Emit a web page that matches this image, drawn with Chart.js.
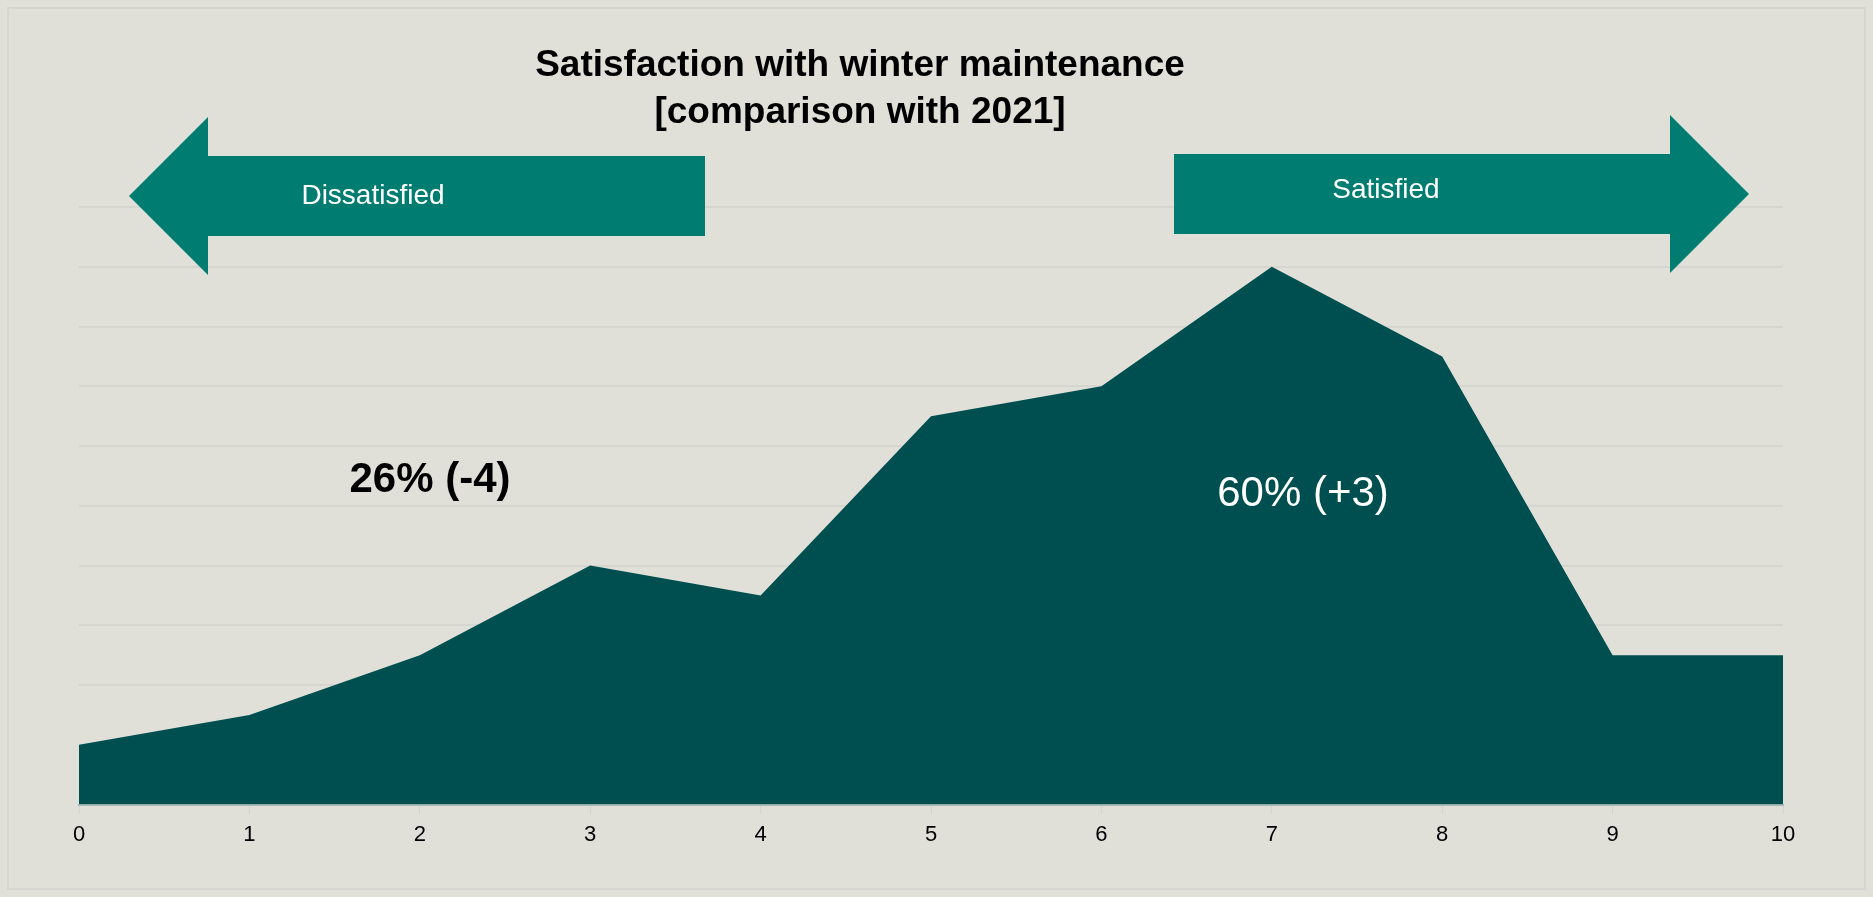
<!DOCTYPE html>
<html>
<head>
<meta charset="utf-8">
<script src="https://cdn.jsdelivr.net/npm/chart.js@4"></script>
<style>
  html, body { margin: 0; padding: 0; background: #E0E0D9; }
  canvas { display: block; }
</style>
</head>
<body>
<canvas id="c" width="1873" height="897"></canvas>
<script>
// ---- data ----
const categories = ['0','1','2','3','4','5','6','7','8','9','10'];
const shareValues = [2, 3, 5, 8, 7, 13, 14, 18, 15, 5, 5];
const titleLines = ['Satisfaction with winter maintenance', '[comparison with 2021]'];
const groupLabels = ['Dissatisfied', 'Satisfied'];
const groupResults = ['26% (-4)', '60% (+3)'];

const FONT = '"Liberation Sans", Arial, sans-serif';
const BG = '#E0E0D9';
const AREA = '#004F50';
const ARROW = '#007D70';

const decor = {
  id: 'decor',
  beforeDraw(chart) {
    const ctx = chart.ctx;
    ctx.save();
    ctx.fillStyle = BG;
    ctx.fillRect(0, 0, chart.width, chart.height);
    ctx.strokeStyle = '#D5D5D1';
    ctx.lineWidth = 2;
    ctx.strokeRect(8, 8, chart.width - 16, chart.height - 16);
    ctx.restore();
  },
  afterDraw(chart) {
    const ctx = chart.ctx;
    ctx.save();
    // title
    ctx.fillStyle = '#000';
    ctx.font = 'bold 37px ' + FONT;
    ctx.textAlign = 'center';
    ctx.textBaseline = 'middle';
    ctx.fillText(titleLines[0], 860, 66);
    ctx.fillText(titleLines[1], 860, 113);

    // left arrow
    ctx.fillStyle = ARROW;
    ctx.beginPath();
    ctx.moveTo(129, 196);
    ctx.lineTo(208, 117);
    ctx.lineTo(208, 156);
    ctx.lineTo(705, 156);
    ctx.lineTo(705, 236);
    ctx.lineTo(208, 236);
    ctx.lineTo(208, 275);
    ctx.closePath();
    ctx.fill();
    // right arrow
    ctx.beginPath();
    ctx.moveTo(1749, 194);
    ctx.lineTo(1670, 115);
    ctx.lineTo(1670, 154);
    ctx.lineTo(1174, 154);
    ctx.lineTo(1174, 234);
    ctx.lineTo(1670, 234);
    ctx.lineTo(1670, 273);
    ctx.closePath();
    ctx.fill();

    ctx.fillStyle = '#FFFFFF';
    ctx.font = '28px ' + FONT;
    ctx.fillText(groupLabels[0], 373, 196);
    ctx.fillText(groupLabels[1], 1386, 190);

    // results
    ctx.fillStyle = '#000';
    ctx.font = 'bold 42px ' + FONT;
    ctx.fillText(groupResults[0], 430, 480);
    ctx.fillStyle = '#FFFFFF';
    ctx.font = '42px ' + FONT;
    ctx.fillText(groupResults[1], 1303, 494);
    ctx.restore();
  }
};

new Chart(document.getElementById('c'), {
  type: 'line',
  data: {
    labels: categories,
    datasets: [{
      data: shareValues,
      fill: 'origin',
      backgroundColor: AREA,
      borderWidth: 0,
      borderColor: AREA,
      pointRadius: 0,
      tension: 0
    }]
  },
  options: {
    responsive: false,
    animation: false,
    devicePixelRatio: 1,
    layout: { padding: { left: 79, right: 90, top: 207, bottom: 41 } },
    plugins: { legend: { display: false }, tooltip: { enabled: false }, title: { display: false } },
    scales: {
      x: {
        type: 'category',
        offset: false,
        grid: { display: true, drawOnChartArea: false, drawTicks: true, tickLength: 9, color: '#D3D3CF' },
        border: { display: true, color: '#A9BABA', width: 2 },
        ticks: { color: '#000', font: { family: FONT, size: 22 }, padding: 8, maxRotation: 0, autoSkip: false }
      },
      y: {
        min: 0, max: 20,
        grid: { color: '#D6D6D1', lineWidth: 2, drawTicks: false },
        border: { display: false },
        ticks: { display: false, stepSize: 2 }
      }
    }
  },
  plugins: [decor]
});
</script>
</body>
</html>
